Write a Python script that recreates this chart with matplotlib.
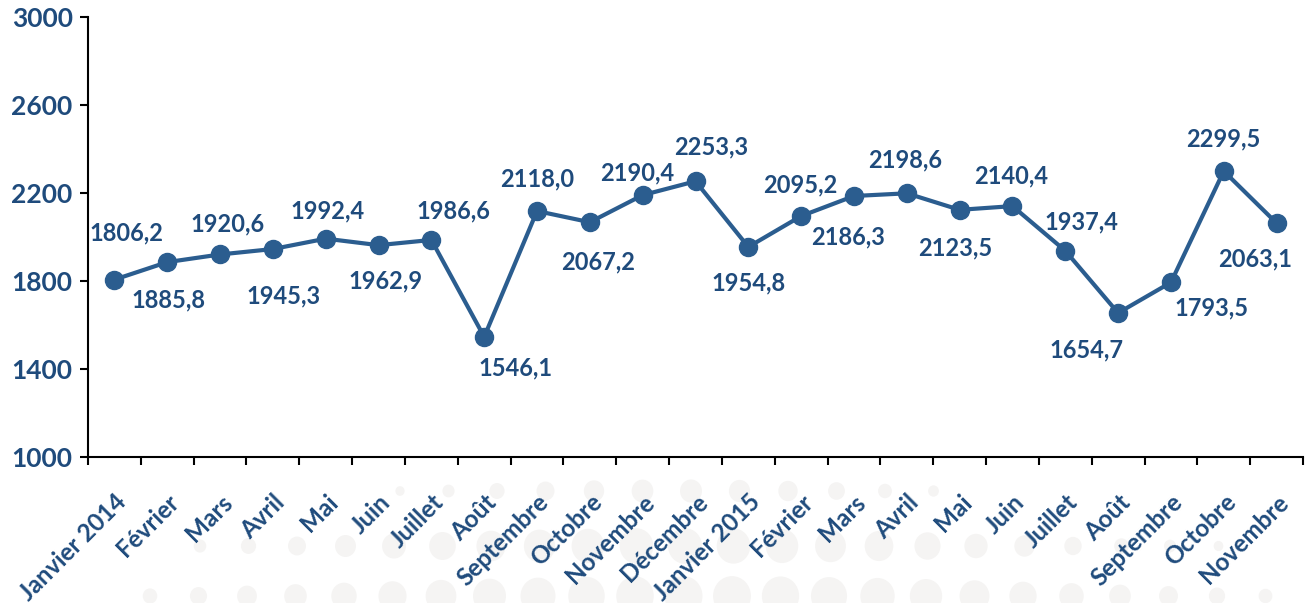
import matplotlib
matplotlib.use('Agg')
import matplotlib.pyplot as plt
from matplotlib.patches import Ellipse
import numpy as np

# data
months = ['Janvier 2014', 'Février', 'Mars', 'Avril', 'Mai', 'Juin', 'Juillet',
          'Août', 'Septembre', 'Octobre', 'Novembre', 'Décembre',
          'Janvier 2015', 'Février', 'Mars', 'Avril', 'Mai', 'Juin', 'Juillet',
          'Août', 'Septembre', 'Octobre', 'Novembre']
values = [1806.2, 1885.8, 1920.6, 1945.3, 1992.4, 1962.9, 1986.6,
          1546.1, 2118.0, 2067.2, 2190.4, 2253.3,
          1954.8, 2095.2, 2186.3, 2198.6, 2123.5, 2140.4, 1937.4,
          1654.7, 1793.5, 2299.5, 2063.1]
yticks = [1000, 1400, 1800, 2200, 2600, 3000]

# label offsets in pixels (dx, dy up positive)
offsets = [(12, 47), (1, -38), (7, 31), (11, -47), (2, 28), (7, -36), (22, 29),
           (31, -31), (0, 32), (8, -40), (-5, 22), (16, 34),
           (0, -36), (-1, 31), (-6, -41), (-2, 33), (-4, -38), (-1, 30), (16, 29),
           (-32, -37), (41, -25), (0, 32), (-21, -36)]

navy = '#2b5d8f'
txt = '#1f4b7c'
plt.rcParams['font.family'] = ['Lato', 'DejaVu Sans']

fig = plt.figure(figsize=(13.12, 6.03), dpi=100)

# faint decorative dots behind the month labels
bg = fig.add_axes([0, 0, 1, 1], zorder=-1)
bg.set_xlim(0, 1312)
bg.set_ylim(603, 0)
bg.axis('off')
rows = [(491, 400, 1010, 680, 300, 11), (546, 200, 1300, 680, 480, 17), (596, 150, 1300, 700, 560, 19)]
for yr, x0, x1, xc, w, rmax in rows:
    for xx in np.arange(x0, x1, 48.5):
        rr = rmax * np.exp(-((xx - xc) / w) ** 2)
        if rr < 4:
            continue
        bg.add_patch(Ellipse((xx, yr), rr * 2, rr * 2.1, color='#f5f4f3', lw=0))

ax = fig.add_axes([88 / 1312, 146 / 603, 1215 / 1312, 440 / 603])
ax.patch.set_alpha(0)

x = np.arange(len(values))
ax.plot(x, values, '-o', color=navy, lw=3, markersize=13, zorder=3, clip_on=False)

for i, v in enumerate(values):
    dx, dy = offsets[i]
    ax.annotate('{:.1f}'.format(v).replace('.', ','), (i, v),
                xytext=(dx * 0.72, dy * 0.72), textcoords='offset points',
                ha='center', va='center', fontsize=17, fontweight='bold', color=txt)

ax.set_xlim(-0.5, len(values) - 0.5)
ax.set_ylim(1000, 3000)
ax.set_yticks(yticks)
ax.set_yticklabels([str(t) for t in yticks], fontsize=19, fontweight='bold', color=txt)

ax.set_xticks(np.arange(-0.5, len(values), 1.0))
ax.set_xticklabels([])
ax.set_xticks(x, minor=True)
ax.set_xticklabels(months, minor=True, rotation=45, ha='right', rotation_mode='anchor',
                   fontsize=17.5, fontweight='bold', color=txt)
ax.tick_params(axis='x', which='minor', length=0, pad=24)
ax.tick_params(axis='x', which='major', length=6, width=1.5, direction='out')
ax.tick_params(axis='y', length=6, width=1.5, direction='out', pad=5)

ax.spines['top'].set_visible(False)
ax.spines['right'].set_visible(False)
ax.spines['left'].set_linewidth(1.5)
ax.spines['bottom'].set_linewidth(1.5)

fig.savefig('out.png', dpi=100)
